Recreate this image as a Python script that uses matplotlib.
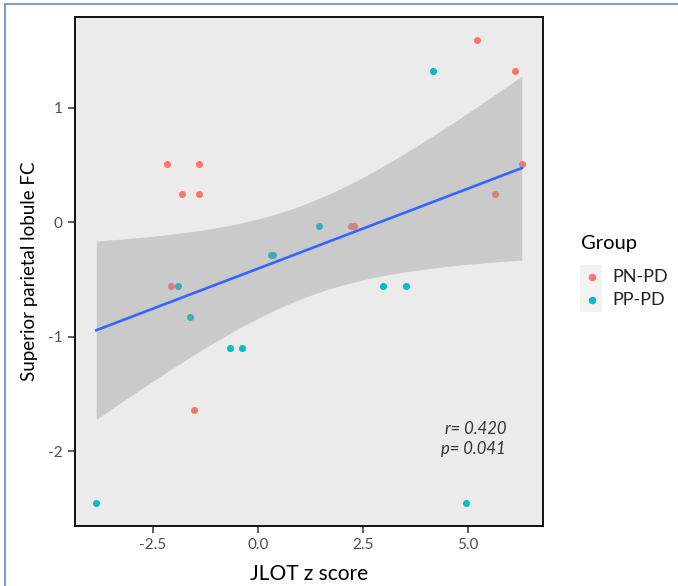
import numpy as np
import matplotlib
matplotlib.use("Agg")
import matplotlib.pyplot as plt
from matplotlib.patches import Rectangle

plt.rcParams['font.family'] = ['Lato', 'DejaVu Sans']
plt.rcParams['axes.unicode_minus'] = False

# JLOT z score vs superior parietal lobule FC, by group
pn_x = [-2.15, -1.39, -1.81, -1.39, 5.22, 6.13, 6.28, 5.64, -2.07, -1.51, 2.21, 2.29]
pn_y = [0.51, 0.51, 0.245, 0.245, 1.59, 1.32, 0.51, 0.245, -0.56, -1.64, -0.03, -0.03]
pp_x = [4.16, -1.90, -1.62, -0.66, -0.375, 0.31, 0.375, 1.46, 2.98, 3.53, -3.84, 4.95]
pp_y = [1.32, -0.56, -0.83, -1.10, -1.10, -0.29, -0.29, -0.03, -0.56, -0.56, -2.45, -2.45]
groups = ['PN-PD', 'PP-PD']
group_colors = ['#F8766D', '#00BFC4']
stats_text = 'r= 0.420\np= 0.041'

x = np.array(pn_x + pp_x)
y = np.array(pn_y + pp_y)

# linear fit with 95% confidence band (like geom_smooth(method='lm'))
n = len(x)
b1, b0 = np.polyfit(x, y, 1)
resid = y - (b0 + b1 * x)
s = np.sqrt(np.sum(resid ** 2) / (n - 2))
t_crit = 2.074  # t(0.975, df=22)
xs = np.linspace(x.min(), x.max(), 200)
ys = b0 + b1 * xs
se = s * np.sqrt(1 / n + (xs - x.mean()) ** 2 / np.sum((x - x.mean()) ** 2))

fig = plt.figure(figsize=(6.78, 5.86), dpi=100)
ax = fig.add_axes([0.1106, 0.1024, 0.6903, 0.8686])
ax.set_facecolor('#EBEBEB')

ax.scatter(pn_x, pn_y, s=26, color=group_colors[0], linewidths=0, zorder=2)
ax.scatter(pp_x, pp_y, s=26, color=group_colors[1], linewidths=0, zorder=2)
ax.fill_between(xs, ys - t_crit * se, ys + t_crit * se, color='#999999', alpha=0.4,
                linewidth=0, zorder=3)
ax.plot(xs, ys, color='#3366FF', lw=1.9, zorder=4)

xr = x.max() - x.min()
yr = y.max() - y.min()
ax.set_xlim(x.min() - 0.05 * xr, x.max() + 0.05 * xr)
ax.set_ylim(y.min() - 0.05 * yr, y.max() + 0.05 * yr)

ax.set_xticks([-2.5, 0.0, 2.5, 5.0])
ax.set_xticklabels(['-2.5', '0.0', '2.5', '5.0'])
ax.set_yticks([-2, -1, 0, 1])
ax.tick_params(axis='both', length=5, width=1.1, color='#333333', labelcolor='#4D4D4D',
               labelsize=11, pad=4)
for sp in ax.spines.values():
    sp.set_linewidth(1.4)
    sp.set_color('#111111')

ax.set_xlabel('JLOT z score', fontsize=15, color='black', labelpad=8)
ax.set_ylabel('Superior parietal lobule FC', fontsize=13.5, color='black', labelpad=7)

ax.text(0.921, 0.171, stats_text, transform=ax.transAxes, ha='right', va='center',
        fontsize=12, style='italic', color='#333333', linespacing=1.25)

# legend
fig.text(581 / 678, 1 - 243 / 586, 'Group', fontsize=14.5, ha='left', va='center')
fig.patches.append(Rectangle((580 / 678, 1 - 312 / 586), 22 / 678, 47 / 586,
                             transform=fig.transFigure, facecolor='#F2F2F2',
                             edgecolor='none'))
for i, (g, c) in enumerate(zip(groups, group_colors)):
    yy = 1 - (277 + 23 * i) / 586
    fig.add_artist(plt.Line2D([591.5 / 678], [yy], marker='o', markersize=5.4,
                              color=c, markeredgewidth=0, transform=fig.transFigure))
    fig.text(612 / 678, yy, g, fontsize=13, ha='left', va='center', color='#222222')

# outer light-blue frame
fig.patches.append(Rectangle((5 / 678, -0.05), 1.1, 1 - 4 / 586 + 0.05,
                             transform=fig.transFigure, facecolor='none',
                             edgecolor='#7F9FC8', linewidth=1.5))

fig.savefig('out.png', dpi=100)
